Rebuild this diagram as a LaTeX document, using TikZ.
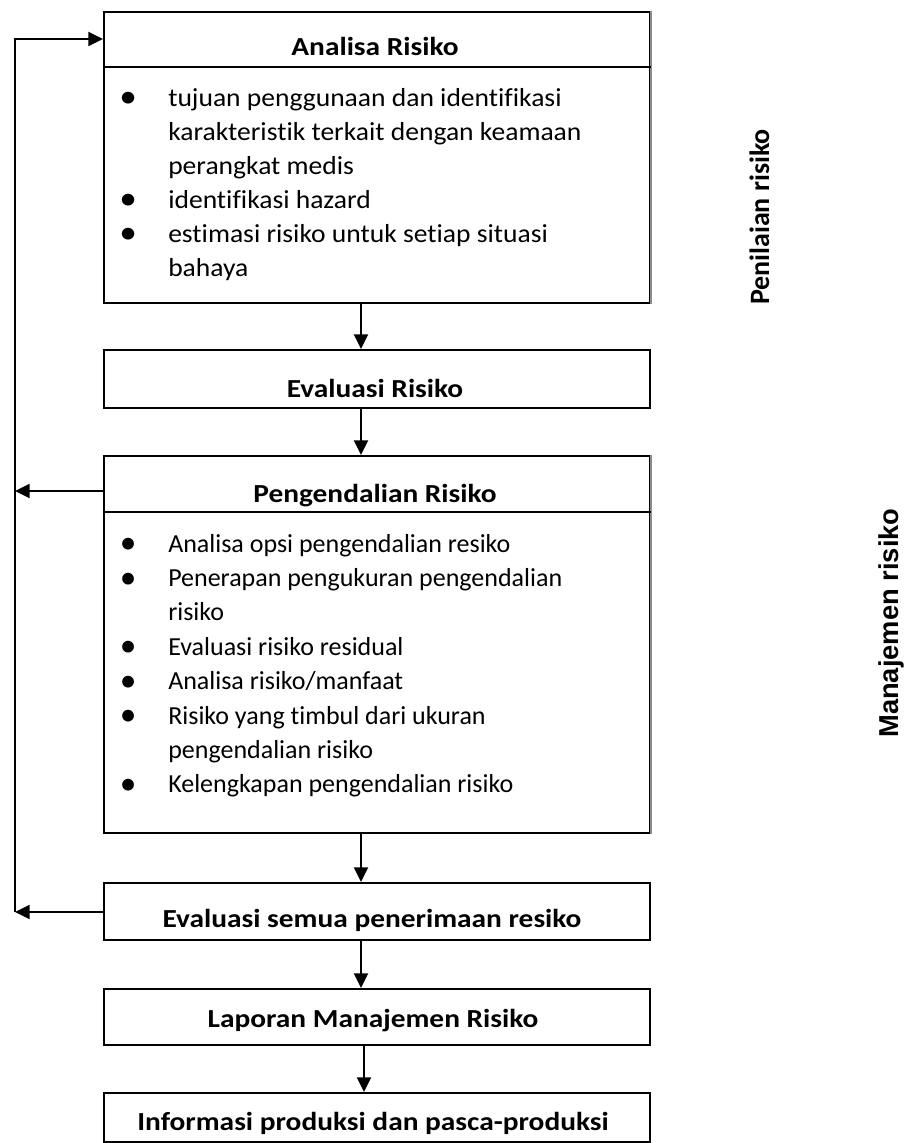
\documentclass[tikz,border=0pt]{standalone}
\usepackage{fontspec}
\setmainfont[Ligatures=NoCommon]{Carlito}
\newfontfamily\ttlfont[FakeStretch=1.13,Ligatures=NoCommon]{Carlito}
\newfontfamily\bodyAfont[FakeStretch=1.06,Ligatures=NoCommon]{Carlito}
\newfontfamily\bodyBfont[Ligatures=NoCommon]{Carlito}
\newfontfamily\sidefont{Liberation Sans}
\usetikzlibrary{arrows.meta}
\newdimen\px \px=0.75pt
\newcommand\bl{\makebox[0pt]{\fontsize{25pt}{25pt}\selectfont\raisebox{-1.2pt}{•}}\hspace{40\px}}
\newcommand\ct{\hspace{40\px}}
\begin{document}
\begin{tikzpicture}[x=0.75pt,y=-0.75pt,
  box/.style={draw=black, line width=1.4pt, inner sep=0pt, anchor=north west, minimum width=546*0.75pt},
  sepline/.style={draw=black, line width=1.4pt},
  grayedge/.style={draw=black!45, line width=1.4pt},
  ttl/.style={font={\ttlfont\bfseries\fontsize{19.5pt}{23pt}\selectfont}, anchor=base, inner sep=0pt},
  bodyA/.style={font={\bodyAfont\fontsize{19.5pt}{25.5pt}\selectfont}, anchor=base west, inner sep=0pt},
  bodyB/.style={font={\bodyBfont\fontsize{19.5pt}{25.8pt}\selectfont}, anchor=base west, inner sep=0pt},
  sideA/.style={font={\bfseries\fontsize{21pt}{25pt}\selectfont}, rotate=90, anchor=base, inner sep=0pt},
  sideB/.style={font={\sidefont\bfseries\fontsize{20.5pt}{25pt}\selectfont}, rotate=90, anchor=base, inner sep=0pt},
  conn/.style={line width=1.4pt, line join=miter, -{Triangle[width=10.5pt,length=11pt]}}
]
\useasboundingbox (0,0) rectangle (904,1143);

% boxes
\node[box, minimum height=291*0.75pt] (ar) at (103,11) {};
\node[box, minimum height=58*0.75pt]  (er) at (103,349) {};
\node[box, minimum height=377*0.75pt] (pr) at (103,455) {};
\node[box, minimum height=57*0.75pt]  (es) at (103,882) {};
\node[box, minimum height=56*0.75pt]  (lp) at (103,988) {};
\node[box, minimum height=49*0.75pt]  (ip) at (103,1092) {};

\draw[grayedge] (ar.north east) -- (ar.south east);
\draw[grayedge] (pr.north east) -- (pr.south east);
\draw[sepline] (ar.west |- 0,67) -- (ar.east |- 0,67);
\draw[sepline] (pr.west |- 0,512) -- (pr.east |- 0,512);

% titles
\node[ttl] (tar) at (375,55)   {Analisa Risiko};
\node[ttl] (ter) at (375,397)  {Evaluasi Risiko};
\node[ttl] (tpr) at (375,502)  {Pengendalian Risiko};
\node[ttl] (tes) at (372,927)  {Evaluasi semua penerimaan resiko};
\node[ttl] (tlp) at (373,1027) {Laporan Manajemen Risiko};
\node[ttl] (tip) at (373,1130) {Informasi produksi dan pasca-produksi};

% bullet lists
\node[bodyA] (bar) at (128,106) {\begin{tabular}[t]{@{}l@{}}
\bl tujuan penggunaan dan identifikasi\\
\ct karakteristik terkait dengan keamaan\\
\ct perangkat medis\\
\bl identifikasi hazard\\
\bl estimasi risiko untuk setiap situasi\\
\ct bahaya
\end{tabular}};

\node[bodyB] (bpr) at (128,552) {\begin{tabular}[t]{@{}l@{}}
\bl Analisa opsi pengendalian resiko\\
\bl Penerapan pengukuran pengendalian\\
\ct risiko\\
\bl Evaluasi risiko residual\\
\bl Analisa risiko/manfaat\\
\bl Risiko yang timbul dari ukuran\\
\ct pengendalian risiko\\
\bl Kelengkapan pengendalian risiko
\end{tabular}};

% side labels
\node[sideA] (pen) at (769,217) {Penilaian risiko};
\node[sideB] (man) at (898,623) {Manajemen risiko};

% flow arrows
\draw[conn] (ar.south -| 361,0) -- (er.north -| 361,0);
\draw[conn] (er.south -| 361,0) -- (pr.north -| 361,0);
\draw[conn] (pr.south -| 361,0) -- (es.north -| 361,0);
\draw[conn] (es.south -| 361,0) -- (lp.north -| 361,0);
\draw[conn] (lp.south -| 364,0) -- (ip.north -| 364,0);

% feedback loop
\coordinate (fbtop) at (15,39);
\coordinate (fbmid) at (15,491);
\coordinate (fbbot) at (15,912);
\draw[conn] (pr.west |- fbmid) -- (fbmid);
\draw[conn] (es.west |- fbbot) -- (fbbot);
\draw[conn] (fbbot) -- (fbtop) -- (ar.west |- fbtop);
\end{tikzpicture}
\end{document}
